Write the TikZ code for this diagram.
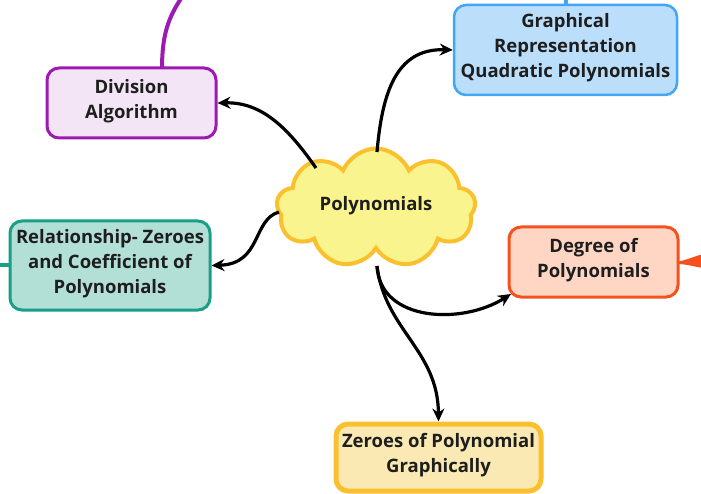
\documentclass[tikz,border=0pt]{standalone}
\usepackage{fontspec}
\setmainfont{Open Sans}
\usetikzlibrary{shapes.symbols,arrows.meta}
\definecolor{txt}{HTML}{1E1E1E}
\definecolor{purpB}{HTML}{9C1AB1}\definecolor{purpF}{HTML}{F3E5F5}
\definecolor{blueB}{HTML}{42A5F5}\definecolor{blueF}{HTML}{BBDEFB}
\definecolor{grnB}{HTML}{17A086}\definecolor{grnF}{HTML}{B2DFD6}
\definecolor{redB}{HTML}{F4511E}\definecolor{redF}{HTML}{FFD5C4}
\definecolor{yelB}{HTML}{FBC02D}\definecolor{yelF}{HTML}{FAE9B2}
\definecolor{cloudF}{HTML}{FAF48E}
\begin{document}
\begin{tikzpicture}[x=1pt,y=-1pt,
  topic/.style={rounded corners=12pt, align=center, text=txt,
    font=\fontsize{18.5}{25}\selectfont\bfseries, inner sep=0pt, text depth=9pt},
  conn/.style={line width=3.2pt, black, -{Stealth[length=13pt,width=12pt]}}]
\useasboundingbox (0,0) rectangle (701,494);
% stubs
\draw[purpB, line width=4pt] (162,69) .. controls (162,35) and (168,18) .. (182,-3);
\draw[blueB, line width=4pt] (566,7) -- (566,-3);
\draw[grnB, line width=4pt] (12,265) -- (-3,265);
\fill[redB] (676,262) .. controls (688,260) and (694,256) .. (704,254) -- (704,268) .. controls (694,267) and (688,264) .. (676,264) -- cycle;
% boxes
\node[topic, draw=purpB, fill=purpF, line width=3pt, minimum width=169pt, minimum height=70pt] (div) at (131.5,103) {Division\\Algorithm};
\node[topic, draw=blueB, fill=blueF, line width=2.5pt, minimum width=223pt, minimum height=90pt] (gra) at (565.5,50) {Graphical\\Representation\\Quadratic Polynomials};
\node[topic, draw=grnB, fill=grnF, line width=3pt, minimum width=200pt, minimum height=89pt] (rel) at (110,265.5) {Relationship- Zeroes\\and Coefficient of\\Polynomials};
\node[topic, draw=redB, fill=redF, line width=3pt, minimum width=169pt, minimum height=70pt] (deg) at (593.5,262) {Degree of\\Polynomials};
\node[topic, draw=yelB, fill=yelF, line width=5pt, minimum width=205pt, minimum height=67pt] (zer) at (438.5,457.5) {Zeroes of Polynomial\\Graphically};
% cloud
\node[cloud, cloud puffs=9, cloud puff arc=135, aspect=1.7, draw=yelB, fill=cloudF, line width=4pt,
  minimum width=199pt, minimum height=119pt, inner sep=0pt] (poly) at (376,208) {};
\node[text=txt, font=\fontsize{18.5}{25}\selectfont\bfseries] (ptxt) at (376,206) {Polynomials};
\coordinate (s1) at (316,168);
\coordinate (s2) at (377,152);
\coordinate (s3) at (279,212);
\coordinate (s4) at (377,266);
\coordinate (e4) at (511,294);
% connectors
\draw[conn] (s1) .. controls (288,128) and (262,102) .. (div.east);
\draw[conn] (s2) .. controls (382,95) and (395,48) .. (gra.west);
\draw[conn] (s3) .. controls (252,220) and (262,264) .. (rel.east);
\draw[conn] (s4) .. controls (380,322) and (462,325) .. (e4);
\draw[conn] (s4) .. controls (385,330) and (438,350) .. (zer.north);
\end{tikzpicture}
\end{document}
